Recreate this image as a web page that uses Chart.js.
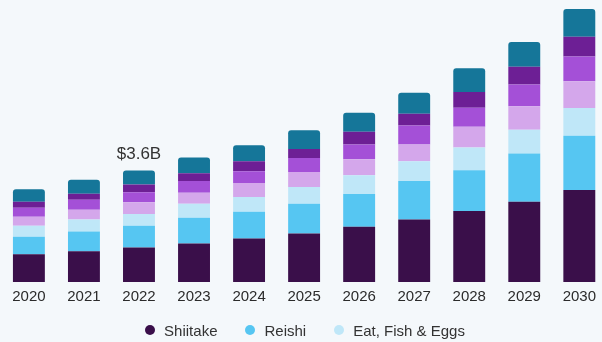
<!DOCTYPE html>
<html>
<head>
<meta charset="utf-8">
<script src="https://cdn.jsdelivr.net/npm/chart.js@4.4.1/dist/chart.umd.min.js"></script>
<style>
  html, body { margin: 0; padding: 0; background: #f4f8fb; overflow: hidden; }
  #wrap { position: relative; width: 602px; height: 342px; }
  #legend {
    position: absolute; left: 4px; top: 321px; width: 602px; height: 18px;
    display: flex; justify-content: center; align-items: center;
    font: 15px "Liberation Sans", Arial, sans-serif; color: #333333;
  }
  #legend .item { display: flex; align-items: center; margin: 0 14px; }
  #legend .dot { width: 10px; height: 10px; border-radius: 50%; margin-right: 9px; }
</style>
</head>
<body>
<div id="wrap">
  <canvas id="market"></canvas>
  <div id="legend"></div>
</div>
<script>
// market size by segment, USD billion
var years = ['2020', '2021', '2022', '2023', '2024', '2025', '2026', '2027', '2028', '2029', '2030'];
var shiitake = [0.89, 0.99, 1.11, 1.24, 1.40, 1.56, 1.78, 2.01, 2.29, 2.58, 2.96];
var reishi = [0.57, 0.64, 0.70, 0.83, 0.86, 0.96, 1.05, 1.24, 1.31, 1.56, 1.75];
var eatFishEggs = [0.35, 0.38, 0.38, 0.45, 0.48, 0.54, 0.61, 0.64, 0.73, 0.76, 0.89];
var segment4 = [0.29, 0.32, 0.38, 0.35, 0.45, 0.48, 0.51, 0.54, 0.67, 0.76, 0.86];
var segment5 = [0.29, 0.32, 0.32, 0.38, 0.38, 0.45, 0.48, 0.61, 0.61, 0.70, 0.80];
var segment6 = [0.19, 0.19, 0.25, 0.25, 0.32, 0.29, 0.41, 0.38, 0.51, 0.57, 0.64];
var segment7 = [0.41, 0.45, 0.45, 0.51, 0.51, 0.61, 0.61, 0.67, 0.76, 0.80, 0.89];
var legendShown = ['Shiitake', 'Reishi', 'Eat, Fish & Eggs'];
var callout = { index: 2, text: '$3.6B' };

var FONT = '"Liberation Sans", Arial, sans-serif';

function pts(arr) {
    return arr.map(function (v, i) { return { x: i, y: v }; });
}

function ds(label, arr, color) {
    return {
        label: label,
        data: pts(arr),
        backgroundColor: color,
        borderWidth: 0,
        categoryPercentage: 1,
        barPercentage: 0.58
    };
}

var datasets = [
    ds('Shiitake', shiitake, '#3a0f4a'),
    ds('Reishi', reishi, '#56c6f2'),
    ds('Eat, Fish & Eggs', eatFishEggs, '#bfe7f8'),
    ds('Other 1', segment4, '#d4a7eb'),
    ds('Other 2', segment5, '#a450d7'),
    ds('Other 3', segment6, '#6d1f95'),
    ds('Other 4', segment7, '#157699')
];
datasets[6].borderRadius = { topLeft: 3, topRight: 3 };
datasets[6].borderSkipped = 'bottom';

// "$3.6B" over the 2022 bar
var calloutPlugin = {
    id: 'callout',
    afterDatasetsDraw: function (chart) {
        var i = callout.index;
        var total = 0;
        chart.data.datasets.forEach(function (d) { total += d.data[i].y; });
        var x = chart.scales.x.getPixelForValue(i);
        var y = chart.scales.y.getPixelForValue(total);
        var ctx = chart.ctx;
        ctx.save();
        ctx.font = '17px ' + FONT;
        ctx.fillStyle = '#333333';
        ctx.textAlign = 'center';
        ctx.textBaseline = 'alphabetic';
        ctx.fillText(callout.text, x, y - 12);
        ctx.restore();
    }
};

new Chart(document.getElementById('market'), {
    type: 'bar',
    data: { datasets: datasets },
    options: {
        responsive: true,
        maintainAspectRatio: false,
        animation: false,
        layout: { padding: { top: 0, left: 0, right: 0, bottom: 30 } },
        scales: {
            x: {
                type: 'linear',
                stacked: true,
                offset: false,
                min: -0.525,
                max: 10.38,
                grid: { display: false, drawTicks: false, tickLength: 0 },
                border: { display: false },
                afterBuildTicks: function (scale) {
                    scale.ticks = years.map(function (y, i) { return { value: i }; });
                },
                ticks: {
                    autoSkip: false,
                    maxRotation: 0,
                    padding: 6,
                    color: '#2b2b2b',
                    font: { family: FONT, size: 15 },
                    callback: function (v) { return years[v]; }
                }
            },
            y: {
                stacked: true,
                display: false,
                min: 0,
                max: 9.08
            }
        },
        plugins: {
            legend: { display: false },
            tooltip: { enabled: false }
        }
    },
    plugins: [calloutPlugin]
});

// legend for the three named segments
var legendBox = document.getElementById('legend');
datasets.forEach(function (d) {
    if (legendShown.indexOf(d.label) < 0) return;
    var item = document.createElement('div');
    item.className = 'item';
    var dot = document.createElement('span');
    dot.className = 'dot';
    dot.style.background = d.backgroundColor;
    var txt = document.createElement('span');
    txt.textContent = d.label;
    item.appendChild(dot);
    item.appendChild(txt);
    legendBox.appendChild(item);
});
</script>
</body>
</html>
